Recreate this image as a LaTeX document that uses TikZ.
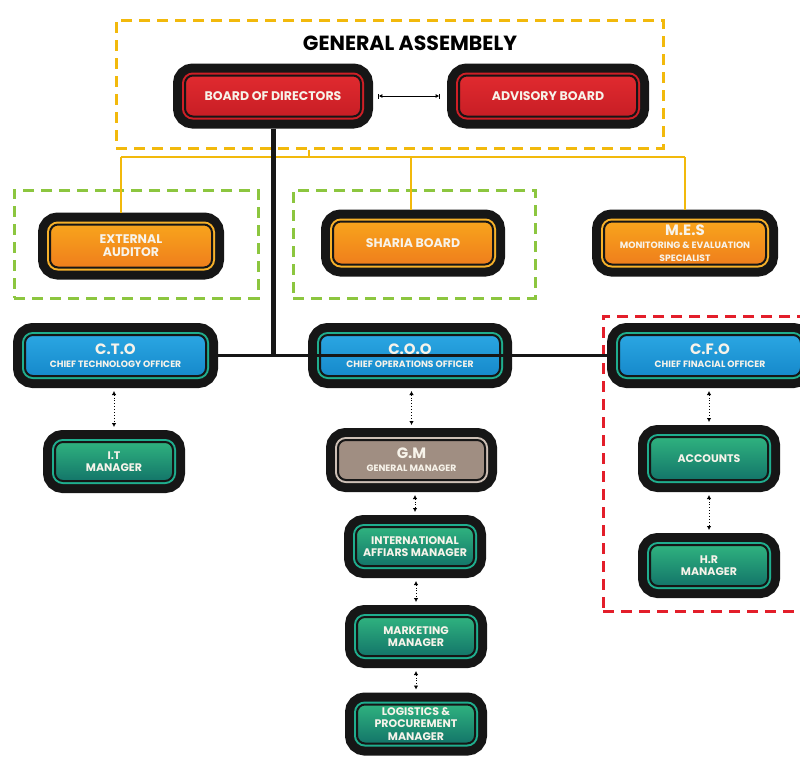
\documentclass[tikz,border=0pt]{standalone}
\usepackage{fontspec}
\setmainfont{Poppins}
\usepackage{tikz}
\usetikzlibrary{arrows.meta,positioning,calc}
\definecolor{boxBlack}{HTML}{161616}
\definecolor{boxText}{HTML}{F7F3EA}
\definecolor{redTop}{HTML}{E02A2F}
\definecolor{redBot}{HTML}{C81E25}
\definecolor{ringRed}{HTML}{CF1F26}
\definecolor{orangeTop}{HTML}{F8A41C}
\definecolor{orangeBot}{HTML}{EF7E1C}
\definecolor{ringOrange}{HTML}{F7B12A}
\definecolor{blueTop}{HTML}{2AA6E2}
\definecolor{blueBot}{HTML}{1689CB}
\definecolor{greenTop}{HTML}{2FB27F}
\definecolor{greenBot}{HTML}{137569}
\definecolor{ringTeal}{HTML}{1FAE8E}
\definecolor{boxBrown}{HTML}{A08E82}
\definecolor{ringBrown}{HTML}{CDBFB5}
\definecolor{frameYellow}{HTML}{F2B90C}
\definecolor{frameGreen}{HTML}{8CC63F}
\definecolor{frameRed}{HTML}{E31E2A}

\newcommand{\headTxt}[1]{{\fontsize{15}{14}\selectfont #1}}
\newcommand{\subTxt}[1]{{\fontsize{9.2}{9.5}\selectfont #1}}

\begin{document}
\begin{tikzpicture}[x=1pt, y=-1pt,
		boxStyle/.style={rounded corners=8pt, text=boxText, font=\bfseries\fontsize{12.5}{13}\selectfont, align=center, inner sep=1pt, outer sep=12pt, draw=boxBlack, line width=2pt, preaction={draw=boxBlack, line width=24pt}, preaction={draw=#1, line width=6pt}},
		redBox/.style={boxStyle=ringRed, top color=redTop, bottom color=redBot},
		orangeBox/.style={boxStyle=ringOrange, top color=orangeTop, bottom color=orangeBot},
		blueBox/.style={boxStyle=ringTeal, top color=blueTop, bottom color=blueBot},
		greenBox/.style={boxStyle=ringTeal, top color=greenTop, bottom color=greenBot, font=\bfseries\fontsize{11}{12.5}\selectfont},
		brownBox/.style={boxStyle=ringBrown, fill=boxBrown},
		frameStyle/.style={dash pattern=on 11pt off 7pt, line width=3pt},
		dotArrow/.style={dotted, line width=0.9pt, {Latex[length=4pt,width=4.5pt]}-{Latex[length=4pt,width=4.5pt]}, shorten <=3pt, shorten >=3pt},
		boardArrow/.style={line width=0.8pt, {Bar[width=5pt].Latex[length=3.5pt,width=4pt]}-{Latex[length=3.5pt,width=4pt].Bar[width=5pt]}, shorten <=5pt, shorten >=7pt},
		yellowLine/.style={frameYellow, line width=1.2pt},
		mainLine/.style={boxBlack, line width=5pt},]
	
	\useasboundingbox (0,0) rectangle (800,756);
	\clip (0,0) rectangle (800,756);
	\fill[white] (0,0) rectangle (800,756);
	
	% frames
	\node[frameStyle, draw=frameYellow, minimum width=547pt, minimum height=128pt] (ga) at (389.5,84) {};
	\node[frameStyle, draw=frameGreen, minimum width=244pt, minimum height=108pt] (auditFrame) at (136,244) {};
	\node[frameStyle, draw=frameGreen, minimum width=242pt, minimum height=108pt] (shariaFrame) at (414,244) {};
	\node[frameStyle, draw=frameRed, minimum width=207pt, minimum height=295pt] (cfoFrame) at (706.5,463.5) {};
	
	\node[font=\bfseries\fontsize{20.5}{22}\selectfont] (gaTitle) at (410,43) {GENERAL ASSEMBELY};
	
	% boards
	\node[redBox, minimum width=176pt, minimum height=41pt] (bod) at (273,96) {BOARD OF DIRECTORS};
	\node[redBox, minimum width=178pt, minimum height=41pt] (adv) at (548,96) {ADVISORY BOARD};
	
	\node[orangeBox, minimum width=162pt, minimum height=43pt] (ext) at (131,246) {EXTERNAL\\AUDITOR};
	\node[orangeBox, minimum width=160pt, minimum height=43pt] (sha) at (413,243) {SHARIA BOARD};
	\node[orangeBox, minimum width=162pt, minimum height=43pt] (mes) at (685,243) {\headTxt{M.E.S}\\\subTxt{MONITORING \& EVALUATION}\\\subTxt{SPECIALIST}};
	
	% chiefs
	\node[blueBox, minimum width=181pt, minimum height=41pt] (cto) at (115.5,355.5) {\headTxt{C.T.O}\\\subTxt{CHIEF TECHNOLOGY OFFICER}};
	\node[blueBox, minimum width=180pt, minimum height=41pt] (coo) at (410,355.5) {\headTxt{C.O.O}\\\subTxt{CHIEF OPERATIONS OFFICER}};
	\node[blueBox, minimum width=182pt, minimum height=41pt] (cfo) at (710,355.5) {\headTxt{C.F.O}\\\subTxt{CHIEF FINACIAL OFFICER}};
	
	% managers
	\begin{scope}[every node/.style={greenBox, minimum width=118pt, minimum height=39pt}]
		\node (itm) at (114,461.5) {I.T\\MANAGER};
		\node (intl) at (415,546.5) {INTERNATIONAL\\AFFIARS MANAGER};
		\node (mkt) at (416,636.5) {MARKETING\\MANAGER};
		\node (log) at (416,724) {LOGISTICS \&\\PROCUREMENT\\MANAGER};
		\node[minimum height=43pt] (acc) at (709,458.5) {ACCOUNTS};
		\node[minimum height=41pt] (hr) at (709,565.5) {H.R\\MANAGER};
	\end{scope}
	\node[brownBox, minimum width=147pt, minimum height=40pt] (gm) at (411.5,460) {\headTxt{G.M}\\\subTxt{GENERAL MANAGER}};
	
	% links
	\coordinate (gaTap) at (309,157);
	\draw[yellowLine] (ga.south -| gaTap) -- (gaTap);
	\draw[yellowLine] ([xshift=-10pt]ext.north |- gaTap) -- (mes.north |- gaTap);
	\foreach \n/\dx in {ext/-10, sha/-2, mes/0}
	\draw[yellowLine] ([xshift=\dx pt]\n.north |- gaTap) -- ([xshift=\dx pt]\n.north);
	
	\draw[boardArrow] (bod.east) -- (adv.west);
	\draw[mainLine] (bod.south) -- (bod.south |- coo.west);
	\draw[mainLine, line width=3.5pt] (cto.east) -- (cfo.west);
	
	\foreach \a/\b in {cto/itm, coo/gm, gm/intl, intl/mkt, mkt/log, cfo/acc, acc/hr}
	\draw[dotArrow] (\b.north |- \a.south) -- (\b.north);
\end{tikzpicture}
\end{document}
